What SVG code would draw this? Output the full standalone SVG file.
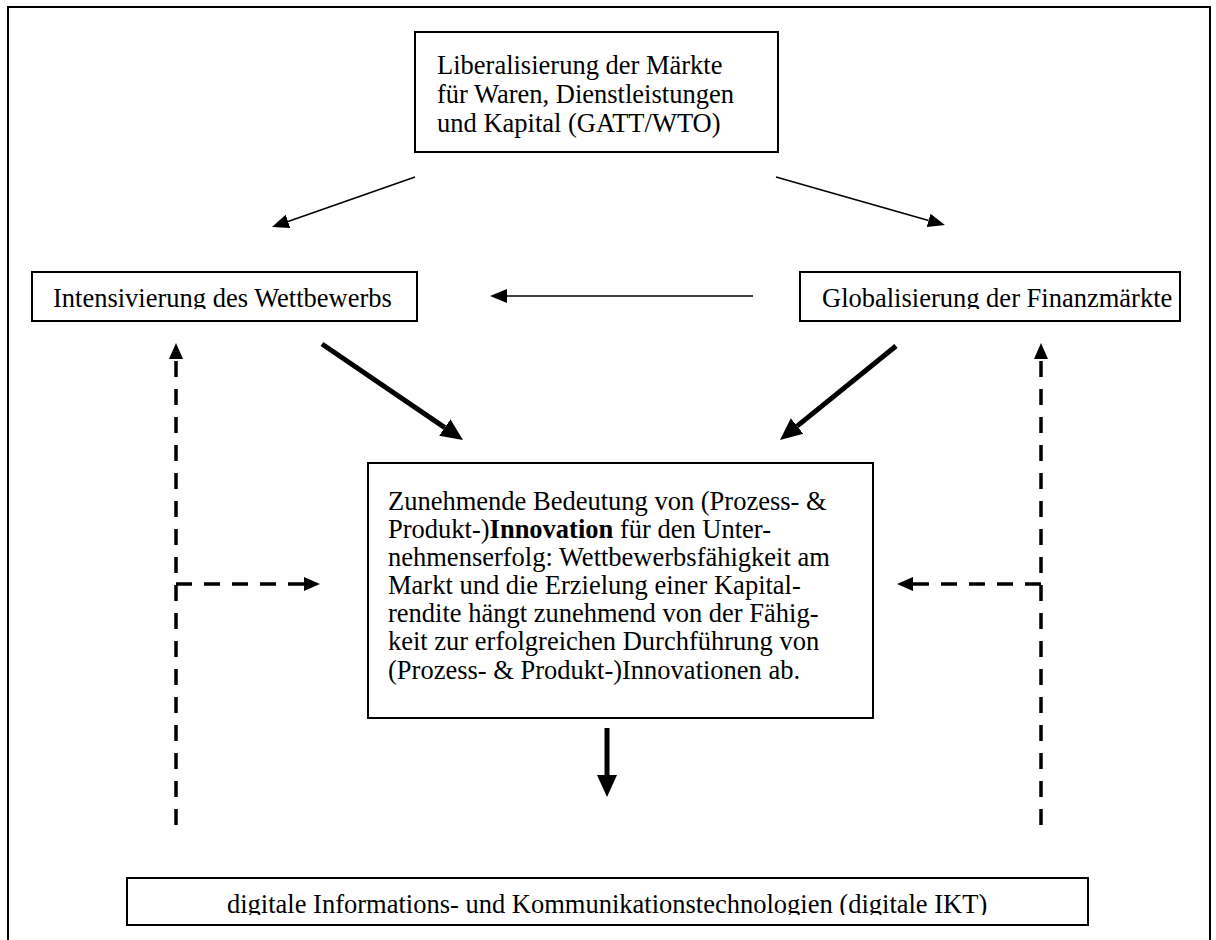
<svg xmlns="http://www.w3.org/2000/svg" width="1216" height="940" viewBox="0 0 1216 940">
<style>
.box{fill:#fff;stroke:#000;stroke-width:2}
.t{font-family:"Liberation Serif","Times New Roman",serif;font-size:26.5px;fill:#000}
.thin{stroke:#000;stroke-width:1.6;fill:none}
.thick{stroke:#000;stroke-width:5;fill:none}
.dash{stroke:#000;stroke-width:3.5;fill:none;stroke-dasharray:16 12}
</style>
<defs>
<marker id="hThin" markerUnits="userSpaceOnUse" viewBox="0 -8 18 16" refX="0" refY="0" markerWidth="18" markerHeight="16" orient="auto"><path d="M0,-7 L17,0 L0,7 Z" fill="#000"/></marker>
<marker id="hThick" markerUnits="userSpaceOnUse" viewBox="0 -11 23 22" refX="0" refY="0" markerWidth="23" markerHeight="22" orient="auto"><path d="M0,-10 L22,0 L0,10 Z" fill="#000"/></marker>
<marker id="hDash" markerUnits="userSpaceOnUse" viewBox="0 -8 17 16" refX="0" refY="0" markerWidth="17" markerHeight="16" orient="auto"><path d="M0,-7 L16,0 L0,7 Z" fill="#000"/></marker>
<clipPath id="cL"><rect x="33" y="273" width="383" height="36"/></clipPath>
<clipPath id="cR"><rect x="801" y="273" width="378" height="36"/></clipPath>
<clipPath id="cB"><rect x="128" y="879" width="959" height="36"/></clipPath>
</defs>
<rect id="frame" x="8" y="7" width="1202" height="960" fill="none" stroke="#000" stroke-width="2"/>
<g id="connectors">
<line class="thin" x1="415" y1="177" x2="288" y2="221.4" marker-end="url(#hThin)"/>
<line class="thin" x1="776" y1="177" x2="928.6" y2="220.4" marker-end="url(#hThin)"/>
<line class="thin" x1="753" y1="296" x2="507" y2="296" marker-end="url(#hThin)"/>
<line class="thick" x1="322" y1="344" x2="444.8" y2="427.6" marker-end="url(#hThick)"/>
<line class="thick" x1="896" y1="346" x2="797.1" y2="426.1" marker-end="url(#hThick)"/>
<line class="thick" x1="607" y1="728" x2="607" y2="775" marker-end="url(#hThick)"/>
<path class="dash" d="M176,825 V359" marker-end="url(#hDash)"/>
<path class="dash" d="M176,584 H304" marker-end="url(#hDash)"/>
<path class="dash" d="M1041,825 V359" marker-end="url(#hDash)"/>
<path class="dash" d="M1041,584 H913" marker-end="url(#hDash)"/>
</g>
<g id="node-liberalisierung">
<rect class="box" x="415" y="32" width="363" height="120"/>
<text class="t" x="437" y="74">Liberalisierung der Märkte</text>
<text class="t" x="437" y="103">für Waren, Dienstleistungen</text>
<text class="t" x="437" y="132">und Kapital (GATT/WTO)</text>
</g>
<g id="node-wettbewerb">
<rect class="box" x="32" y="272" width="385" height="49"/>
<g clip-path="url(#cL)"><text class="t" x="53" y="307">Intensivierung des Wettbewerbs</text></g>
</g>
<g id="node-finanzmaerkte">
<rect class="box" x="800" y="272" width="380" height="49"/>
<g clip-path="url(#cR)"><text class="t" x="822" y="307">Globalisierung der Finanzmärkte</text></g>
</g>
<g id="node-innovation">
<rect class="box" x="368" y="463" width="505" height="255"/>
<text class="t" x="388" y="510">Zunehmende Bedeutung von (Prozess- &amp;</text>
<text class="t" x="388" y="538">Produkt-)<tspan font-weight="bold">Innovation</tspan> für den Unter-</text>
<text class="t" x="388" y="566">nehmenserfolg: Wettbewerbsfähigkeit am</text>
<text class="t" x="388" y="594">Markt und die Erzielung einer Kapital-</text>
<text class="t" x="388" y="622">rendite hängt zunehmend von der Fähig-</text>
<text class="t" x="388" y="650">keit zur erfolgreichen Durchführung von</text>
<text class="t" x="388" y="679">(Prozess- &amp; Produkt-)Innovationen ab.</text>
</g>
<g id="node-ikt">
<rect class="box" x="127" y="878" width="961" height="47"/>
<g clip-path="url(#cB)"><text class="t" x="227" y="913">digitale Informations- und Kommunikationstechnologien (digitale IKT)</text></g>
</g>
</svg>
